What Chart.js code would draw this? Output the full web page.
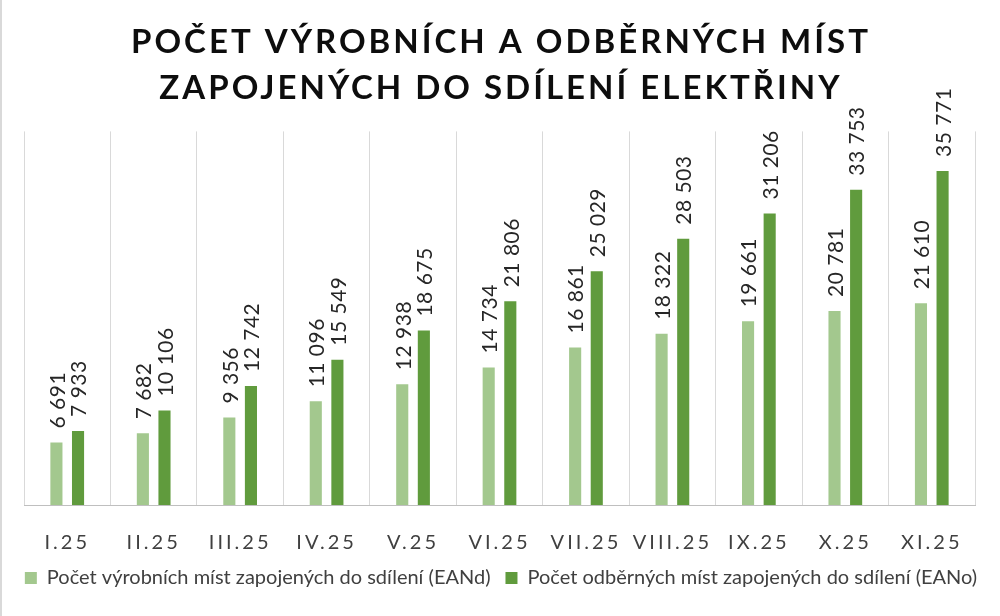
<!DOCTYPE html>
<html lang="cs">
<head>
<meta charset="utf-8">
<title>Počet výrobních a odběrných míst</title>
<script src="https://cdn.jsdelivr.net/npm/chart.js@4.4.1/dist/chart.umd.min.js"></script>
<style>
  html, body { margin: 0; padding: 0; background: #fff; }
  #wrap { width: 998px; height: 616px; position: relative; border-left: 2px solid #d9d9d9; }
</style>
</head>
<body>
<div id="wrap"><canvas id="eanChart"></canvas></div>
<script>
// Months (category axis)
const months = ['I.25', 'II.25', 'III.25', 'IV.25', 'V.25', 'VI.25', 'VII.25', 'VIII.25', 'IX.25', 'X.25', 'XI.25']

// Production points (EANd)
const eanD = [6691, 7682, 9356, 11096, 12938, 14734, 16861, 18322, 19661, 20781, 21610]

// Consumption points (EANo)
const eanO = [7933, 10106, 12742, 15549, 18675, 21806, 25029, 28503, 31206, 33753, 35771]

const titleLines = ['POČET VÝROBNÍCH A ODBĚRNÝCH MÍST', 'ZAPOJENÝCH DO SDÍLENÍ ELEKTŘINY']
const labelD = 'Počet výrobních míst zapojených do sdílení (EANd)'
const labelO = 'Počet odběrných míst zapojených do sdílení (EANo)'

Chart.defaults.font.family = 'Lato, "Open Sans", sans-serif'

// 6691 -> "6 691"
function fmt(v) {
    return String(v).replace(/\B(?=(\d{3})+(?!\d))/g, ' ')
}

// wrap a draw method so its text gets letter spacing
function spaced(obj, method, px) {
    if (!obj || obj['_sp_' + method]) return
    const orig = obj[method]
    obj[method] = function (...args) {
        const ctx = this.ctx
        ctx.save()
        ctx.letterSpacing = px + 'px'
        orig.apply(this, args)
        ctx.restore()
    }
    obj['_sp_' + method] = true
}

const letterSpacingPlugin = {
    id: 'letterSpacing',
    beforeDraw(chart) {
        spaced(chart.titleBlock, 'draw', 3)
        spaced(chart.scales.x, 'drawLabels', 3)
    }
}

// vertical value labels above the bars
const valueLabels = {
    id: 'valueLabels',
    afterDatasetsDraw(chart) {
        const ctx = chart.ctx
        ctx.save()
        ctx.font = '21px Lato, "Open Sans", sans-serif'
        ctx.letterSpacing = '0.5px'
        ctx.fillStyle = '#262626'
        ctx.textAlign = 'left'
        ctx.textBaseline = 'middle'
        chart.data.datasets.forEach((ds, i) => {
            const meta = chart.getDatasetMeta(i)
            meta.data.forEach((bar, j) => {
                ctx.save()
                ctx.translate(bar.x + 1.5, bar.y - 14)
                ctx.rotate(-Math.PI / 2)
                ctx.fillText(fmt(ds.data[j]), 0, 0)
                ctx.restore()
            })
        })
        ctx.restore()
    }
}

const data = {
    labels: months,
    datasets: [{
        label: labelD,
        data: eanD,
        backgroundColor: '#a3c88e',
        categoryPercentage: 0.5,
        barPercentage: 0.56
    },
    {
        label: labelO,
        data: eanO,
        backgroundColor: '#609b3d',
        categoryPercentage: 0.5,
        barPercentage: 0.56
    }]
}

// invisible side axes, only used to hold the plot margins
function spacerAxis(position, width) {
    return {
        type: 'linear',
        position: position,
        display: true,
        min: 0,
        max: 40000,
        grid: { display: false },
        border: { display: false },
        ticks: { display: false },
        afterFit(scale) {
            scale.width = width
        }
    }
}

const config = {
    type: 'bar',
    data,
    plugins: [letterSpacingPlugin, valueLabels],
    options: {
        responsive: true,
        maintainAspectRatio: false,
        animation: false,
        layout: {
            padding: { left: 0, right: 0, top: 0, bottom: 18 }
        },
        scales: {
            x: {
                grid: {
                    display: true,
                    offset: true,
                    color: '#d9d9d9',
                    drawTicks: false
                },
                border: { display: true, color: '#bfbfbf' },
                ticks: {
                    color: '#404040',
                    font: { size: 20 },
                    padding: 26,
                    maxRotation: 0,
                    autoSkip: false
                },
                afterFit(scale) {
                    scale.height = 48
                }
            },
            y: spacerAxis('left', 22),
            yRight: spacerAxis('right', 25)
        },
        plugins: {
            title: {
                display: true,
                text: titleLines,
                color: '#0d0d0d',
                font: { size: 33, weight: 'bold', lineHeight: 1.4 },
                padding: { top: 19, bottom: 20 }
            },
            legend: {
                display: true,
                position: 'bottom',
                labels: {
                    color: '#404040',
                    font: { size: 20 },
                    boxWidth: 12,
                    boxHeight: 12,
                    padding: 15
                }
            },
            tooltip: { enabled: false }
        }
    }
}

const eanChart = new Chart(document.getElementById('eanChart'), config)
</script>
</body>
</html>
